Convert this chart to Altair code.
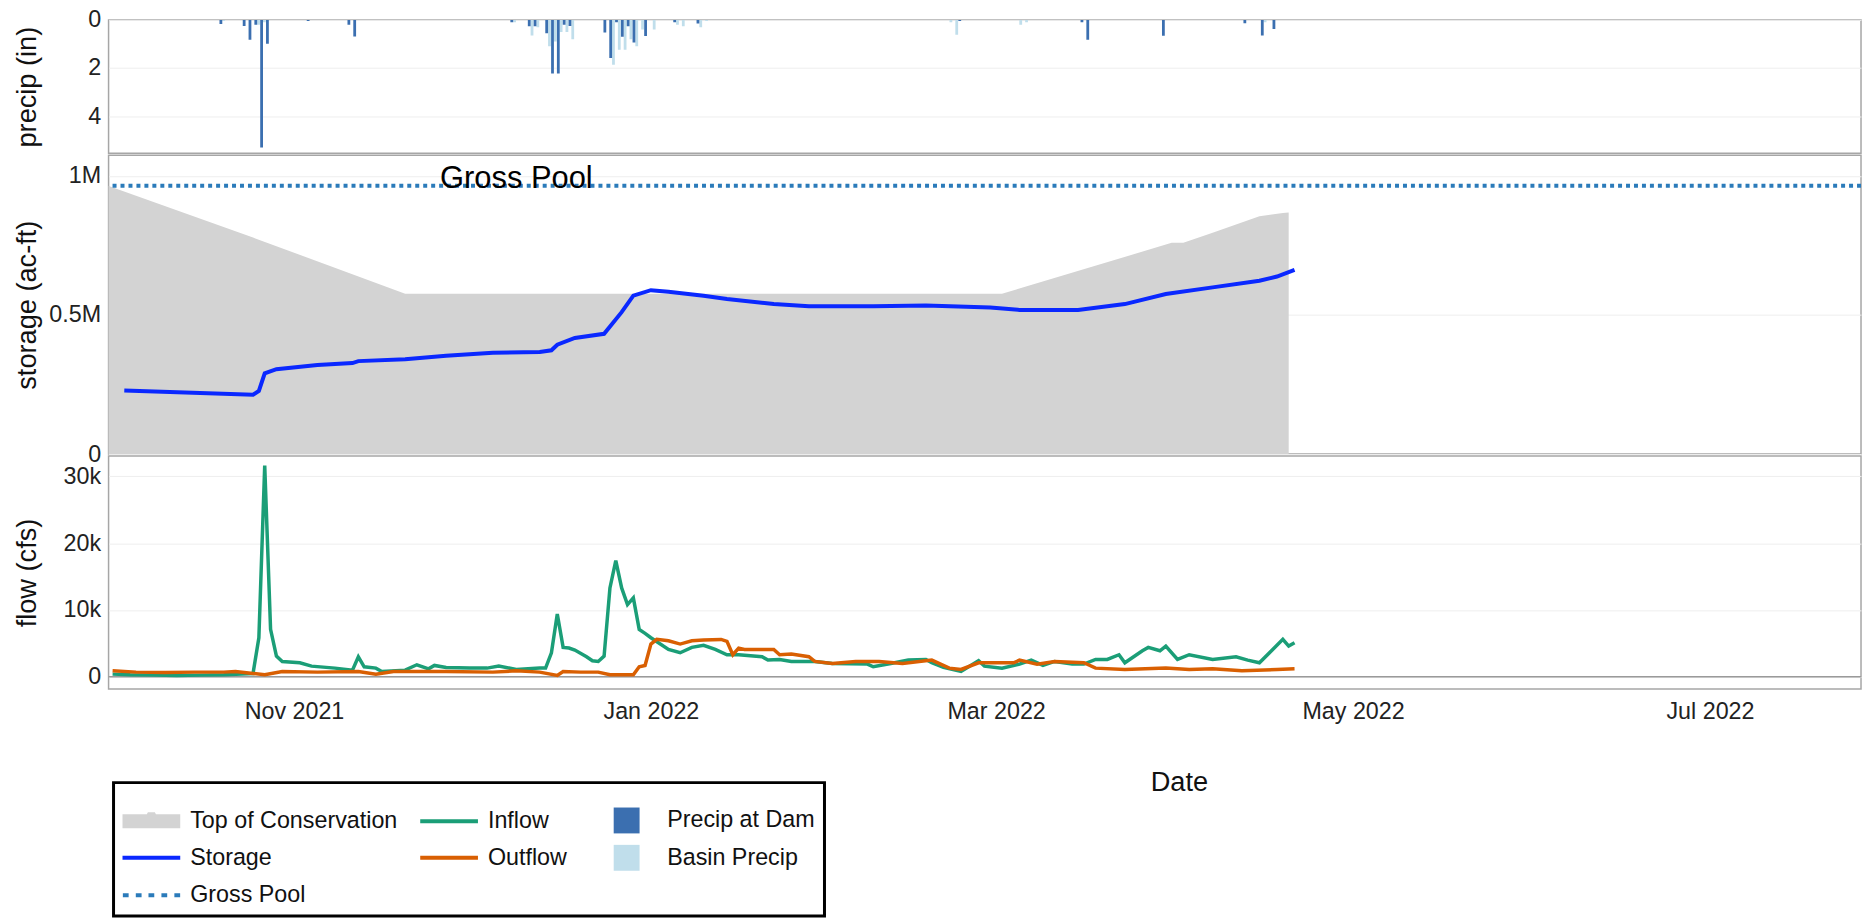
import altair as alt
import pandas as pd

FONT = "Liberation Sans"

# ---------------- data ----------------
dam_dates = ["2021-10-19", "2021-10-23", "2021-10-24", "2021-10-25", "2021-10-26", "2021-10-27",
             "2021-11-03", "2021-11-10", "2021-11-11", "2021-12-08", "2021-12-11", "2021-12-12",
             "2021-12-14", "2021-12-15", "2021-12-16", "2021-12-17", "2021-12-18", "2021-12-24",
             "2021-12-25", "2021-12-26", "2021-12-27", "2021-12-28", "2021-12-29", "2021-12-31",
             "2022-01-05", "2022-01-09", "2022-02-23", "2022-03-16", "2022-03-17", "2022-03-30",
             "2022-04-13", "2022-04-16", "2022-04-18"]
dam_precip = [0.17, 0.25, 0.83, 0.2, 5.31, 0.99,
              0.05, 0.2, 0.69, 0.1, 0.26, 0.26,
              0.55, 2.23, 2.23, 0.2, 0.25, 0.52,
              1.58, 0.1, 0.7, 0.26, 0.94, 0.67,
              0.1, 0.15, 0.05, 0.1, 0.83, 0.66,
              0.14, 0.65, 0.38]

basin_dates = ["2021-10-19", "2021-10-25", "2021-10-26", "2021-12-08", "2021-12-11", "2021-12-12",
               "2021-12-14", "2021-12-15", "2021-12-16", "2021-12-17", "2021-12-18", "2021-12-25",
               "2021-12-26", "2021-12-27", "2021-12-28", "2021-12-29", "2021-12-30", "2022-01-01",
               "2022-01-05", "2022-01-06", "2022-01-09", "2022-01-10", "2022-02-21", "2022-02-22",
               "2022-03-05", "2022-03-06", "2022-04-16"]
basin_precip = [0.05, 0.2, 0.1, 0.1, 0.65, 0.3,
                1.1, 0.9, 0.5, 0.5, 0.8, 1.86,
                1.24, 1.24, 0.8, 1.1, 0.4, 0.4,
                0.2, 0.26, 0.3, 0.05, 0.1, 0.62,
                0.2, 0.1, 0.1]

toc_dates = ["2021-09-30", "2021-10-25", "2021-11-20", "2022-03-02", "2022-03-31", "2022-04-02",
             "2022-04-07", "2022-04-15", "2022-04-19", "2022-04-20"]
toc_vals = [966000, 778000, 576000, 576000, 759000, 759000, 795000, 855000, 866000, 868000]

storage_dates = ["2021-10-03", "2021-10-25", "2021-10-26", "2021-10-27", "2021-10-29", "2021-11-05",
                 "2021-11-11", "2021-11-12", "2021-11-20", "2021-11-27", "2021-12-05", "2021-12-13",
                 "2021-12-15", "2021-12-16", "2021-12-19", "2021-12-24", "2021-12-27", "2021-12-29",
                 "2022-01-01", "2022-01-04", "2022-01-10", "2022-01-14", "2022-01-22", "2022-01-28",
                 "2022-02-08", "2022-02-17", "2022-02-28", "2022-03-05", "2022-03-15", "2022-03-23",
                 "2022-03-30", "2022-04-07", "2022-04-15", "2022-04-18", "2022-04-21"]
storage_vals = [228000, 213000, 227000, 290000, 305000, 320000,
                327000, 334000, 341000, 353000, 364000, 367000,
                373000, 393000, 417000, 432000, 510000, 569000,
                589000, 583000, 569000, 557000, 539000, 531000,
                531000, 534000, 527000, 518000, 518000, 539000,
                575000, 599000, 623000, 638000, 662000]

gross_pool = [964000]
gross_pool_label = ["Gross Pool"]
gross_pool_label_date = ["2021-12-09"]

inflow_dates = ["2021-10-01", "2021-10-04", "2021-10-08", "2021-10-12", "2021-10-16", "2021-10-20",
                "2021-10-25", "2021-10-26", "2021-10-27", "2021-10-28", "2021-10-29", "2021-10-30",
                "2021-11-02", "2021-11-04", "2021-11-08", "2021-11-11", "2021-11-12", "2021-11-13",
                "2021-11-15", "2021-11-16", "2021-11-20", "2021-11-22", "2021-11-24", "2021-11-25",
                "2021-11-27", "2021-12-01", "2021-12-04", "2021-12-06", "2021-12-09", "2021-12-13",
                "2021-12-14", "2021-12-15", "2021-12-16", "2021-12-17", "2021-12-18", "2021-12-19",
                "2021-12-21", "2021-12-22", "2021-12-23", "2021-12-24", "2021-12-25", "2021-12-26",
                "2021-12-27", "2021-12-28", "2021-12-29", "2021-12-30", "2021-12-31", "2022-01-01",
                "2022-01-04", "2022-01-06", "2022-01-08", "2022-01-10", "2022-01-12", "2022-01-14",
                "2022-01-16", "2022-01-20", "2022-01-21", "2022-01-23", "2022-01-25", "2022-01-29",
                "2022-02-01", "2022-02-07", "2022-02-08", "2022-02-11", "2022-02-14", "2022-02-17",
                "2022-02-18", "2022-02-20", "2022-02-23", "2022-02-26", "2022-02-27", "2022-03-02",
                "2022-03-05", "2022-03-07", "2022-03-09", "2022-03-11", "2022-03-14", "2022-03-16",
                "2022-03-18", "2022-03-20", "2022-03-22", "2022-03-23", "2022-03-26", "2022-03-27",
                "2022-03-29", "2022-03-30", "2022-04-01", "2022-04-03", "2022-04-07", "2022-04-11",
                "2022-04-13", "2022-04-15", "2022-04-19", "2022-04-20", "2022-04-21"]
inflow_vals = [400, 300, 250, 200, 250, 300,
               500, 5850, 31600, 7100, 3100, 2300,
               2100, 1600, 1300, 1000, 3000, 1500,
               1300, 800, 1000, 1800, 1200, 1700,
               1400, 1300, 1300, 1600, 1100, 1300,
               1300, 3600, 9400, 4400, 4300, 4000,
               3000, 2400, 2300, 3100, 13300, 17400,
               13300, 10800, 11800, 7100, 6500, 5850,
               4100, 3600, 4400, 4700, 4100, 3300,
               3300, 3000, 2500, 2600, 2300, 2300,
               2000, 1900, 1500, 2000, 2500, 2600,
               2100, 1400, 800, 2400, 1600, 1300,
               1900, 2500, 1700, 2300, 1900, 1900,
               2600, 2600, 3300, 2100, 3900, 4400,
               3900, 4600, 2600, 3300, 2600, 3000,
               2500, 2100, 5600, 4600, 5100]

outflow_dates = ["2021-10-01", "2021-10-05", "2021-10-10", "2021-10-15", "2021-10-20", "2021-10-22",
                 "2021-10-25", "2021-10-27", "2021-10-30", "2021-11-05", "2021-11-12", "2021-11-15",
                 "2021-11-18", "2021-11-27", "2021-12-05", "2021-12-09", "2021-12-13", "2021-12-16",
                 "2021-12-17", "2021-12-20", "2021-12-23", "2021-12-25", "2021-12-29", "2021-12-30",
                 "2021-12-31", "2022-01-01", "2022-01-02", "2022-01-04", "2022-01-06", "2022-01-08",
                 "2022-01-10", "2022-01-13", "2022-01-14", "2022-01-15", "2022-01-16", "2022-01-17",
                 "2022-01-22", "2022-01-23", "2022-01-25", "2022-01-28", "2022-01-29", "2022-02-01",
                 "2022-02-05", "2022-02-09", "2022-02-13", "2022-02-18", "2022-02-21", "2022-02-23",
                 "2022-02-26", "2022-03-04", "2022-03-05", "2022-03-08", "2022-03-11", "2022-03-16",
                 "2022-03-18", "2022-03-23", "2022-03-30", "2022-04-03", "2022-04-07", "2022-04-12",
                 "2022-04-18", "2022-04-21"]
outflow_vals = [900, 700, 650, 700, 700, 800,
                500, 300, 800, 700, 800, 400,
                800, 800, 700, 900, 700, 200,
                800, 700, 700, 300, 300, 1500,
                1700, 4900, 5600, 5400, 4900, 5400,
                5500, 5600, 5300, 3300, 4300, 4100,
                4100, 3300, 3400, 3000, 2300, 2000,
                2300, 2300, 2000, 2500, 1300, 1100,
                2100, 2100, 2500, 1900, 2300, 2100,
                1300, 1100, 1300, 1100, 1200, 900,
                1100, 1200]

legend_names = ["Top of Conservation", "Inflow", "Precip at Dam",
                "Storage", "Outflow", "Basin Precip", "Gross Pool"]
legend_colors = ["#d3d3d3", "#1b9e77", "#3b6fb0",
                 "#0a28ff", "#d95f02", "#c0deeb", "#2b7bba"]

precip_ticks = [0, 2, 4]
storage_ticks = [0, 500000, 1000000]
flow_ticks = [0, 10000, 20000, 30000]

# ---------------- styling / layout ----------------
C_TOC, C_IN, C_DAM, C_STOR, C_OUT, C_BASIN, C_GP = legend_colors
# legend glyphs (unit = 13 px, glyph centre sits 13 px right of the entry origin)
LINE = "M-1,-0.154L3.46,-0.154L3.46,0.154L-1,0.154Z"
# same line glyph plus an empty (zero-area) sub-path that widens the middle legend column
LINE_WIDE = LINE + "M11.1,0L11.1,0.001Z"
SQUARE = "M0.1,-1L2.1,-1L2.1,1L0.1,1Z"
AREA = ("M-1,-0.54L0.88,-0.54L0.96,-0.7L1.5,-0.7L1.58,-0.54L3.46,-0.54"
        "L3.46,0.54L-1,0.54Z")
DOTS = "".join(
    f"M{c-0.223:.3f},-0.154L{c+0.223:.3f},-0.154L{c+0.223:.3f},0.154L{c-0.223:.3f},0.154Z"
    for c in [-0.75, 0.25, 1.23, 2.23, 3.23]
)
legend_shapes = [AREA, LINE_WIDE, SQUARE, LINE, LINE_WIDE, SQUARE, DOTS]

W = 1760
x_dom = [alt.DateTime(year=2021, month=9, date=30, hours=7, minutes=30),
         alt.DateTime(year=2022, month=7, date=26, hours=19, minutes=30)]
xs = alt.Scale(domain=x_dom)
x_ticks = [alt.DateTime(year=2021, month=11, date=1), alt.DateTime(year=2022, month=1, date=1),
           alt.DateTime(year=2022, month=3, date=1), alt.DateTime(year=2022, month=5, date=1),
           alt.DateTime(year=2022, month=7, date=1)]


def ytitle_axis(title, values, **kw):
    return alt.Axis(title=title, values=values, titleX=-81, titleBaseline="middle",
                    labelPadding=8, **kw)


dam_df = pd.DataFrame({"date": pd.to_datetime(dam_dates), "value": dam_precip})
basin_df = pd.DataFrame({"date": pd.to_datetime(basin_dates), "value": basin_precip})
toc_df = pd.DataFrame({"date": pd.to_datetime(toc_dates), "value": toc_vals})
stor_df = pd.DataFrame({"date": pd.to_datetime(storage_dates), "value": storage_vals})
gp_df = pd.DataFrame({"value": gross_pool})
gpl_df = pd.DataFrame({"date": pd.to_datetime(gross_pool_label_date), "value": gross_pool,
                       "label": gross_pool_label})
in_df = pd.DataFrame({"date": pd.to_datetime(inflow_dates), "value": inflow_vals})
out_df = pd.DataFrame({"date": pd.to_datetime(outflow_dates), "value": outflow_vals})
zero_df = pd.DataFrame({"value": [0]})
leg_df = pd.DataFrame({"series": legend_names})

# ---------------- precip panel ----------------
yp = alt.Scale(domain=[0, 5.55], reverse=True, nice=False, zero=False)
p_axis = ytitle_axis("precip (in)", precip_ticks)
basin_bars = alt.Chart(basin_df).mark_bar(color=C_BASIN, width=2.8, xOffset=1.4, clip=True).encode(
    x=alt.X("date:T", scale=xs, axis=None),
    y=alt.Y("value:Q", scale=yp, axis=p_axis, stack=None),
)
dam_bars = alt.Chart(dam_df).mark_bar(color=C_DAM, width=2.8, xOffset=-1.4, clip=True).encode(
    x=alt.X("date:T", scale=xs, axis=None),
    y=alt.Y("value:Q", scale=yp, axis=p_axis, stack=None),
)
precip = alt.layer(basin_bars, dam_bars).properties(width=W, height=134)

# ---------------- storage panel ----------------
ys = alt.Scale(domain=[0, 1073500], nice=False)
s_axis = ytitle_axis("storage (ac-ft)", storage_ticks,
                     labelExpr="datum.value == 0 ? '0' : format(datum.value / 1e6, '~g') + 'M'")
toc = alt.Chart(toc_df).mark_area(color=C_TOC, clip=True).encode(
    x=alt.X("date:T", scale=xs, axis=None),
    y=alt.Y("value:Q", scale=ys, axis=s_axis),
)
gp_rule = alt.Chart(gp_df).mark_rule(color=C_GP, strokeWidth=4, strokeDash=[4, 4]).encode(
    y=alt.Y("value:Q", scale=ys)
)
stor_line = alt.Chart(stor_df).mark_line(color=C_STOR, strokeWidth=4).encode(
    x=alt.X("date:T", scale=xs, axis=None),
    y=alt.Y("value:Q", scale=ys),
)
gp_text = alt.Chart(gpl_df).mark_text(font=FONT, fontSize=31, baseline="alphabetic", dy=2,
                                      color="#000000").encode(
    x=alt.X("date:T", scale=xs, axis=None),
    y=alt.Y("value:Q", scale=ys),
    text="label:N",
)
legend = alt.Legend(orient="none", legendX=5, legendY=766, columns=3, direction="horizontal")
leg_layer = alt.Chart(leg_df).transform_filter("false").mark_point(filled=True, opacity=1).encode(
    color=alt.Color("series:N", scale=alt.Scale(domain=legend_names, range=legend_colors),
                    legend=legend, title=" "),
    shape=alt.Shape("series:N", scale=alt.Scale(domain=legend_names, range=legend_shapes),
                    legend=legend, title=" "),
)
storage = alt.layer(toc, gp_rule, stor_line, gp_text, leg_layer).properties(width=W, height=300)

# ---------------- flow panel ----------------
yf = alt.Scale(domain=[-1830, 33040], nice=False, zero=False)
f_axis = ytitle_axis("flow (cfs)", flow_ticks,
                     labelExpr="datum.value == 0 ? '0' : format(datum.value / 1000, '~g') + 'k'")
x_axis = alt.Axis(values=x_ticks, format="%b %Y", title="Date", labelPadding=12, grid=False,
                  titleX=1075, titleY=94, titleBaseline="middle", labelOverlap=False,
                  labelFlush=False)
zero_rule = alt.Chart(zero_df).mark_rule(color="#9a9a9a", strokeWidth=1.5).encode(
    y=alt.Y("value:Q", scale=yf)
)
in_line = alt.Chart(in_df).mark_line(color=C_IN, strokeWidth=3.5).encode(
    x=alt.X("date:T", scale=xs, axis=x_axis),
    y=alt.Y("value:Q", scale=yf, axis=f_axis),
)
out_line = alt.Chart(out_df).mark_line(color=C_OUT, strokeWidth=3.5).encode(
    x=alt.X("date:T", scale=xs, axis=x_axis),
    y=alt.Y("value:Q", scale=yf, axis=f_axis),
)
flow = alt.layer(zero_rule, in_line, out_line).properties(width=W, height=234)

chart = (
    alt.vconcat(precip, storage, flow, spacing=2, bounds="flush")
    .properties(padding={"left": 5, "top": -3, "right": 0, "bottom": 0})
    .configure(font=FONT)
    .configure_view(stroke="#a6a6a6", strokeWidth=1.5)
    .configure_axis(domain=False, ticks=False, labelFont=FONT, labelFontSize=23.4,
                    labelColor="#222222", titleFont=FONT, titleFontSize=27.3,
                    titleColor="#111111", titleFontWeight="normal", gridColor="#eeeeee")
    .configure_legend(labelFont=FONT, labelFontSize=23.4, labelColor="#111111",
                      symbolSize=676, symbolStrokeWidth=0, labelOffset=42,
                      columnPadding=22, rowPadding=11.5, padding=9,
                      strokeColor="#000000", strokeWidth=3, fillColor="#ffffff",
                      titleFontSize=1, titlePadding=15, labelLimit=400)
)

chart.save("out.html", embed_options={"renderer": "svg", "actions": False})
